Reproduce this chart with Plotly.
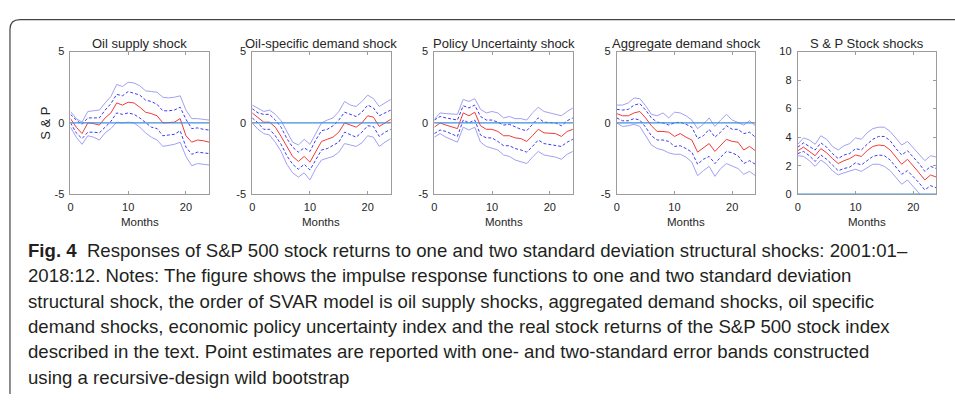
import plotly.graph_objects as go

# ---------------- data ----------------
months = list(range(25))

panel_titles = ["Oil supply shock", "Oil-specific demand shock", "Policy Uncertainty shock",
                "Aggregate demand shock", "S & P Stock shocks"]

x_tick_vals = [0, 10, 20]
x_tick_text = ["0", "10", "20"]
y_tick_vals_small = [-5, 0, 5]
y_tick_text_small = ["-5", "0", "5"]
y_tick_vals_big = [0, 2, 4, 6, 8, 10]
y_tick_text_big = ["0", "2", "4", "6", "8", "10"]

# Oil supply shock
oil_supply_irf = [0.3, -0.3, -0.75, 0.0, -0.05, -0.15, 0.35, 0.7, 1.4, 1.25, 1.45, 1.4, 1.1, 0.75, 0.65, 0.5, 0.0, 0.0, 0.05, 0.3, -0.9, -1.35, -1.2, -1.25, -1.35]
oil_supply_hi1 = [0.6, 0.2, -0.1, 0.35, 0.35, 0.35, 0.9, 1.35, 2.0, 1.9, 2.2, 2.1, 1.95, 1.6, 1.5, 1.3, 0.85, 0.85, 0.9, 1.1, 0.25, -0.4, -0.35, -0.45, -0.5]
oil_supply_lo1 = [0.0, -0.7, -1.1, -0.65, -0.65, -0.7, -0.3, 0.1, 0.7, 0.6, 0.7, 0.6, 0.35, 0.0, -0.3, -0.4, -0.9, -0.85, -0.8, -0.55, -1.7, -2.2, -2.05, -2.1, -2.15]
oil_supply_hi2 = [0.8, 0.3, 0.05, 0.8, 0.85, 0.9, 1.4, 1.85, 2.7, 2.55, 2.85, 2.8, 2.6, 2.25, 2.2, 2.15, 1.8, 1.75, 1.8, 1.9, 0.9, 0.3, 0.3, 0.25, 0.2]
oil_supply_lo2 = [-0.3, -1.0, -1.5, -0.9, -1.0, -1.2, -0.7, -0.4, 0.05, 0.0, 0.05, 0.0, -0.3, -0.7, -1.0, -1.2, -1.65, -1.6, -1.5, -1.35, -2.35, -3.0, -2.85, -2.9, -2.95]

# Oil-specific demand shock
oil_demand_irf = [0.7, 0.35, 0.05, 0.05, -0.3, -0.95, -1.65, -2.35, -2.7, -2.35, -2.75, -2.0, -1.3, -1.15, -1.0, -0.65, 0.0, -0.15, -0.3, 0.0, 0.5, 0.4, -0.25, 0.0, 0.25]
oil_demand_hi1 = [1.0, 0.7, 0.6, 0.6, 0.2, -0.3, -1.1, -1.7, -2.05, -1.75, -2.0, -1.2, -0.55, -0.45, -0.2, 0.2, 0.75, 0.6, 0.45, 0.75, 1.25, 1.05, 0.5, 0.7, 0.9]
oil_demand_lo1 = [0.35, 0.0, -0.45, -0.45, -0.9, -1.5, -2.3, -2.9, -3.25, -2.9, -3.3, -2.55, -1.9, -1.8, -1.55, -1.35, -0.65, -0.85, -1.0, -0.65, -0.2, -0.25, -0.95, -0.65, -0.45]
oil_demand_hi2 = [1.25, 1.05, 0.8, 0.9, 0.6, 0.15, -0.65, -1.35, -1.55, -1.15, -1.5, -0.75, 0.0, 0.2, 0.35, 0.8, 1.5, 1.25, 1.15, 1.5, 1.95, 1.7, 1.15, 1.4, 1.65]
oil_demand_lo2 = [0.0, -0.45, -0.75, -0.85, -1.35, -2.0, -2.9, -3.5, -3.8, -3.5, -4.0, -3.2, -2.6, -2.45, -2.35, -2.05, -1.45, -1.55, -1.65, -1.4, -0.9, -1.0, -1.65, -1.35, -1.1]

# Policy uncertainty shock
policy_irf = [-0.3, 0.0, -0.15, -0.25, -0.4, 0.7, 0.5, 0.75, -0.2, -0.45, -0.45, -0.6, -0.9, -0.9, -1.05, -1.1, -1.3, -0.9, -0.45, -0.7, -0.7, -0.75, -0.95, -0.6, -0.45]
policy_hi1 = [0.2, 0.45, 0.35, 0.3, 0.2, 1.2, 1.05, 1.25, 0.45, 0.2, 0.2, 0.05, -0.15, -0.1, -0.3, -0.45, -0.55, -0.1, 0.35, 0.05, 0.0, 0.0, -0.2, 0.15, 0.35]
policy_lo1 = [-0.75, -0.5, -0.6, -0.75, -0.95, 0.2, 0.0, 0.2, -0.85, -1.05, -1.05, -1.3, -1.6, -1.6, -1.8, -1.9, -2.05, -1.65, -1.2, -1.45, -1.5, -1.55, -1.65, -1.35, -1.15]
policy_hi2 = [0.25, 0.7, 0.65, 0.6, 0.6, 1.65, 1.5, 1.7, 0.95, 0.7, 0.8, 0.7, 0.35, 0.45, 0.3, 0.3, 0.2, 0.7, 1.1, 0.8, 0.7, 0.6, 0.5, 0.8, 1.05]
policy_lo2 = [-1.0, -0.75, -1.0, -1.15, -1.35, -0.3, -0.5, -0.3, -1.35, -1.65, -1.75, -1.9, -2.25, -2.35, -2.6, -2.7, -2.85, -2.4, -2.0, -2.25, -2.3, -2.4, -2.55, -2.2, -2.0]

# Aggregate demand shock
agg_demand_irf = [0.65, 0.5, 0.5, 0.7, 0.8, 0.35, -0.2, -0.6, -0.6, -0.65, -0.95, -0.75, -1.0, -1.2, -2.05, -1.75, -1.45, -2.0, -1.55, -1.15, -1.3, -1.35, -1.9, -1.65, -1.95]
agg_demand_hi1 = [0.95, 0.9, 0.95, 1.25, 1.35, 0.9, 0.35, 0.05, 0.0, -0.15, 0.0, 0.05, -0.1, -0.3, -1.1, -0.9, -0.45, -1.0, -0.65, -0.2, -0.45, -0.45, -0.75, -0.65, -1.0]
agg_demand_lo1 = [0.35, 0.15, 0.15, 0.3, 0.2, -0.3, -0.9, -1.2, -1.2, -1.3, -1.65, -1.6, -1.8, -2.05, -2.9, -2.55, -2.35, -2.85, -2.4, -2.0, -2.1, -2.3, -2.85, -2.65, -2.9]
agg_demand_hi2 = [1.25, 1.25, 1.4, 1.75, 1.7, 1.2, 0.6, 0.5, 0.7, 0.35, 0.75, 0.7, 0.5, 0.2, -0.4, -0.1, 0.35, -0.25, 0.2, 0.6, 0.2, 0.0, -0.15, 0.15, -0.2]
agg_demand_lo2 = [0.0, -0.25, -0.2, -0.1, -0.25, -0.9, -1.55, -1.8, -1.9, -2.1, -2.2, -2.2, -2.4, -2.75, -3.7, -3.35, -3.05, -3.75, -3.2, -2.85, -3.0, -3.2, -3.6, -3.4, -3.7]

# S & P stock shock
stock_irf = [3.05, 3.3, 3.0, 2.7, 3.2, 2.9, 2.5, 2.15, 2.35, 2.5, 2.75, 2.65, 3.05, 3.35, 3.45, 3.4, 3.1, 2.6, 2.1, 2.45, 2.0, 1.5, 1.0, 1.35, 1.2]
stock_hi1 = [3.3, 3.6, 3.35, 3.1, 3.6, 3.3, 2.85, 2.5, 2.75, 2.85, 3.2, 3.1, 3.5, 3.85, 4.05, 4.05, 3.75, 3.2, 2.75, 3.05, 2.6, 2.15, 1.6, 1.95, 1.8]
stock_lo1 = [2.85, 3.0, 2.7, 2.3, 2.75, 2.45, 2.05, 1.65, 1.8, 1.9, 2.2, 2.05, 2.35, 2.65, 2.75, 2.7, 2.4, 1.9, 1.4, 1.65, 1.25, 0.8, 0.3, 0.6, 0.45]
stock_hi2 = [3.5, 3.95, 3.8, 3.5, 4.1, 3.85, 3.35, 3.1, 3.4, 3.55, 3.95, 3.85, 4.3, 4.6, 4.7, 4.7, 4.4, 3.9, 3.45, 3.7, 3.25, 2.75, 2.35, 2.7, 2.6]
stock_lo2 = [2.7, 2.65, 2.35, 1.95, 2.4, 2.1, 1.65, 1.35, 1.5, 1.6, 1.75, 1.6, 1.85, 2.1, 2.1, 1.95, 1.65, 1.2, 0.7, 1.0, 0.5, 0.0, -0.4, -0.2, -0.3]

zero_line = [0] * 25

caption_lines = [
    "<b>Fig. 4</b>  Responses of S&P 500 stock returns to one and two standard deviation structural shocks: 2001:01–",
    "2018:12. Notes: The figure shows the impulse response functions to one and two standard deviation",
    "structural shock, the order of SVAR model is oil supply shocks, aggregated demand shocks, oil specific",
    "demand shocks, economic policy uncertainty index and the real stock returns of the S&P 500 stock index",
    "described in the text. Point estimates are reported with one- and two-standard error bands constructed",
    "using a recursive-design wild bootstrap",
]

panels = [
    (oil_supply_irf, oil_supply_lo1, oil_supply_hi1, oil_supply_lo2, oil_supply_hi2),
    (oil_demand_irf, oil_demand_lo1, oil_demand_hi1, oil_demand_lo2, oil_demand_hi2),
    (policy_irf, policy_lo1, policy_hi1, policy_lo2, policy_hi2),
    (agg_demand_irf, agg_demand_lo1, agg_demand_hi1, agg_demand_lo2, agg_demand_hi2),
    (stock_irf, stock_lo1, stock_hi1, stock_lo2, stock_hi2),
]

# ---------------- layout helpers ----------------
W, H = 955, 402
def px(x):
    return x / W
def py(y):
    return 1 - y / H

panel_left = [67.7, 250.0, 432.7, 615.7, 797.3]
panel_w = 139.0
panel_top, panel_bottom = 47.0, 194.0

RED = "#f23a3a"
DASH_BLUE = "#3b3bf5"
BAND_BLUE = "#a0a0f2"
ZERO_BLUE = "#3d8fe0"
BOX = "#9c9c9c"
TXT = "#262626"
FONT = "Liberation Sans, Arial, sans-serif"

fig = go.Figure()
layout = dict(
    width=W, height=H,
    margin=dict(l=0, r=0, t=0, b=0),
    paper_bgcolor="white", plot_bgcolor="white",
    showlegend=False,
    font=dict(family=FONT, size=11, color=TXT),
)

annotations = []
for i, (irf, lo1, hi1, lo2, hi2) in enumerate(panels):
    k = i + 1
    xa = "x" if k == 1 else f"x{k}"
    ya = "y" if k == 1 else f"y{k}"
    for series in (hi2, lo2):
        fig.add_trace(go.Scatter(x=months, y=series, mode="lines", xaxis=xa, yaxis=ya,
                                 line=dict(color=BAND_BLUE, width=1), hoverinfo="skip"))
    for series in (hi1, lo1):
        fig.add_trace(go.Scatter(x=months, y=series, mode="lines", xaxis=xa, yaxis=ya,
                                 line=dict(color=DASH_BLUE, width=1, dash="3px,2px"), hoverinfo="skip"))
    fig.add_trace(go.Scatter(x=months, y=irf, mode="lines", xaxis=xa, yaxis=ya,
                             line=dict(color=RED, width=1), hoverinfo="skip"))
    fig.add_trace(go.Scatter(x=months, y=zero_line, mode="lines", xaxis=xa, yaxis=ya,
                             line=dict(color=ZERO_BLUE, width=1.3), hoverinfo="skip"))

    big = (k == 5)
    xkey = "xaxis" if k == 1 else f"xaxis{k}"
    ykey = "yaxis" if k == 1 else f"yaxis{k}"
    x0 = panel_left[i]
    layout[xkey] = dict(
        domain=[px(x0), px(x0 + panel_w)], anchor=ya, range=[0, 24],
        tickmode="array", tickvals=x_tick_vals, ticktext=x_tick_text,
        ticks="inside", ticklen=3, tickcolor=BOX, tickwidth=1,
        showline=True, linecolor=BOX, linewidth=1, mirror="ticks",
        showgrid=False, zeroline=False, fixedrange=True,
        tickfont=dict(size=11, color=TXT, family=FONT), ticklabelstandoff=3,
    )
    layout[ykey] = dict(
        domain=[py(panel_bottom), py(panel_top)], anchor=xa,
        range=[0, 10] if big else [-5, 5],
        tickmode="array",
        tickvals=y_tick_vals_big if big else y_tick_vals_small,
        ticktext=y_tick_text_big if big else y_tick_text_small,
        ticks="inside", ticklen=3, tickcolor=BOX, tickwidth=1,
        showline=True, linecolor=BOX, linewidth=1, mirror="ticks",
        showgrid=False, zeroline=False, fixedrange=True,
        tickfont=dict(size=11, color=TXT, family=FONT), ticklabelstandoff=3,
    )
    cx = x0 + panel_w / 2
    annotations.append(dict(text=panel_titles[i], x=px(cx), y=py(39), xref="paper", yref="paper",
                            xanchor="center", yanchor="middle", showarrow=False,
                            font=dict(size=13, color=TXT, family=FONT)))
    annotations.append(dict(text="Months", x=px(cx), y=py(223), xref="paper", yref="paper",
                            xanchor="center", yanchor="middle", showarrow=False,
                            font=dict(size=11.5, color=TXT, family=FONT)))

annotations.append(dict(text="S & P", x=px(43), y=py(120.5), xref="paper", yref="paper",
                        xanchor="center", yanchor="middle", textangle=-90, showarrow=False,
                        font=dict(size=13, color=TXT, family=FONT)))

for j, line in enumerate(caption_lines):
    annotations.append(dict(text=line, x=px(23), y=py(252 + j * 26.1), xref="paper", yref="paper",
                            xanchor="left", yanchor="middle", showarrow=False,
                            font=dict(size=18.6, color="#231f20", family=FONT)))

layout["annotations"] = annotations
layout["shapes"] = [dict(
    type="path", xref="paper", yref="paper",
    path=f"M {px(7)},{py(400)} L {px(7)},{py(24)} Q {px(7)},{py(14)} {px(17)},{py(14)} L {px(955)},{py(14)}",
    line=dict(color="#444444", width=1.2),
)]
fig.update_layout(**layout)
fig.write_html("out.html",
               config={"displayModeBar": False},
               post_script="document.body.style.margin='0';document.body.style.overflow='hidden';")
